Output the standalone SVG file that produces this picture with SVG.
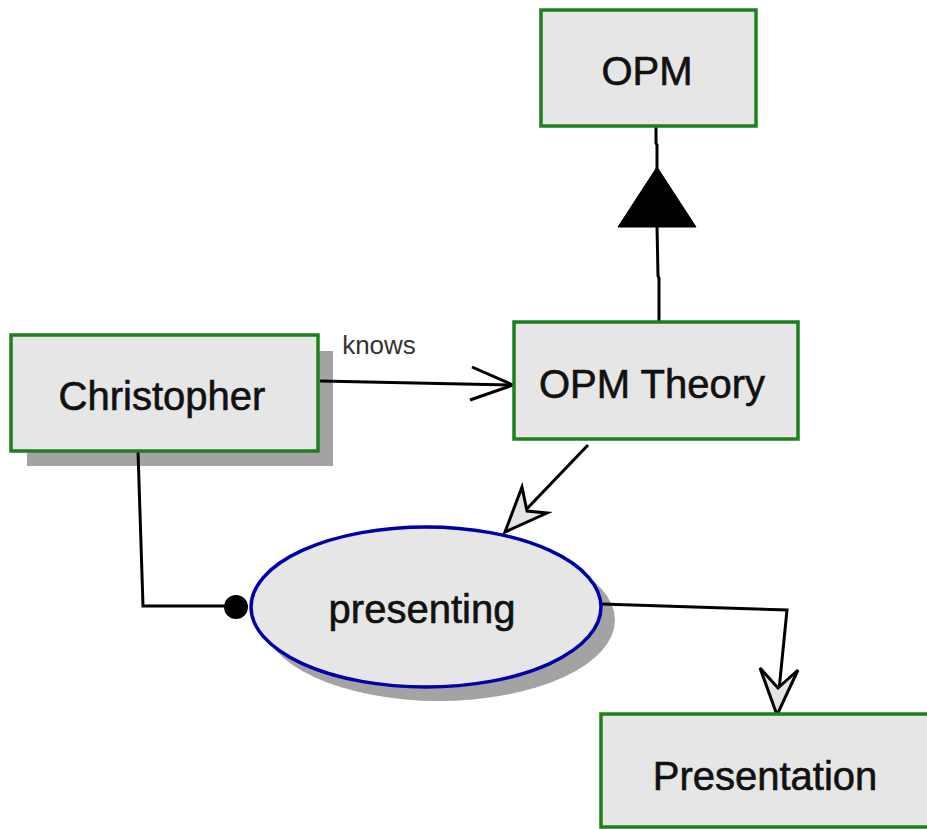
<svg xmlns="http://www.w3.org/2000/svg" width="927" height="829" viewBox="0 0 927 829">
<style>
.box{fill:#e6e6e6;stroke:#1e7f1e;stroke-width:3.5}
.shadow{fill:#a3a3a3}
.lbl{font-family:"Liberation Sans",Arial,sans-serif;font-size:40px;fill:#111;stroke:#111;stroke-width:0.6;text-anchor:middle}
.edge{fill:none;stroke:#000;stroke-width:3;stroke-linejoin:miter}
.head{fill:#e4e4e4;stroke:#000;stroke-width:3;stroke-linejoin:miter}
</style>
<rect width="927" height="829" fill="#fff"/>
<g id="presenting-shadow"><ellipse class="shadow" cx="439" cy="620" rx="176" ry="81"/></g>
<g id="christopher-shadow"><rect class="shadow" x="27" y="351" width="306" height="115"/></g>
<g id="connectors">
  <polyline class="edge" points="656,127 656,143 657,145 657,170"/>
  <polyline class="edge" points="657,225 658,276 659,278 659,322"/>
  <polygon points="657,167 618,227 696,227" fill="#000" stroke="#000" stroke-width="1"/>
  <line class="edge" x1="320" y1="381" x2="512" y2="385"/>
  <polyline class="edge" points="472,367 513,385 470,400"/>
  <line class="edge" x1="588" y1="445" x2="520" y2="516"/>
  <polygon class="head" points="505,532 522,487 527,511 547,513"/>
  <polyline class="edge" points="138,451 143,606 236,606"/>
  <circle cx="236" cy="607" r="12" fill="#000"/>
  <polyline class="edge" points="601,604 787,610 779,690"/>
  <polygon class="head" points="777,715 760,668 778,688 798,670"/>
  <text x="379" y="354" font-family="'Liberation Sans',Arial,sans-serif" font-size="26" fill="#333" text-anchor="middle">knows</text>
</g>
<g id="opm">
  <rect class="box" x="541" y="10" width="215" height="116"/>
  <text class="lbl" x="647" y="85">OPM</text>
</g>
<g id="opm-theory">
  <rect class="box" x="514" y="322" width="284" height="117"/>
  <text class="lbl" x="652" y="398">OPM Theory</text>
</g>
<g id="christopher">
  <rect class="box" x="11" y="335" width="307" height="116"/>
  <text class="lbl" x="162" y="410">Christopher</text>
</g>
<g id="presenting">
  <ellipse cx="426" cy="607" rx="175" ry="80" fill="#e6e6e6" stroke="#0000a8" stroke-width="3.5"/>
  <text class="lbl" x="422" y="623">presenting</text>
</g>
<g id="presentation">
  <rect class="box" x="601" y="714" width="332" height="113"/>
  <text class="lbl" x="765" y="790">Presentation</text>
</g>
</svg>
